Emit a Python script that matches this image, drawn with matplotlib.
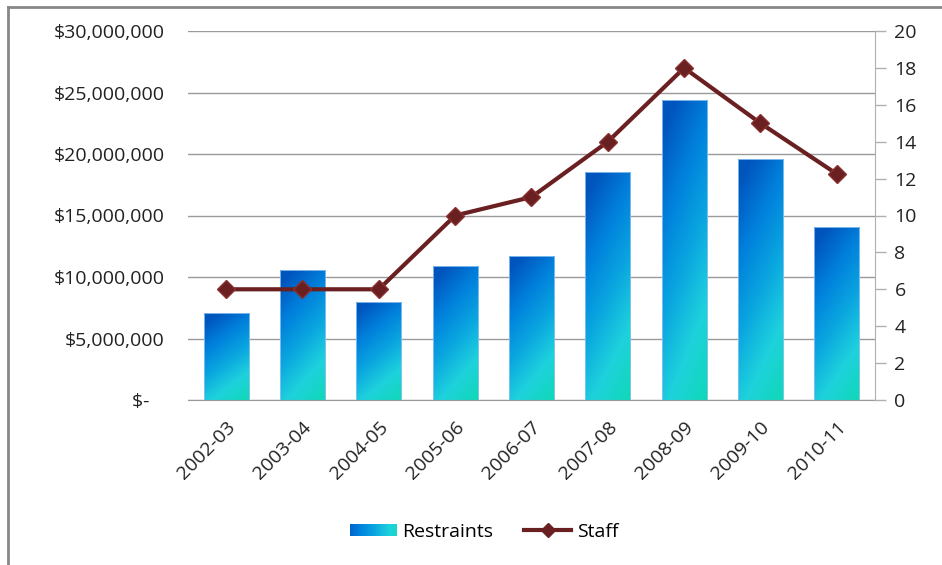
import matplotlib.pyplot as plt
import numpy as np
from matplotlib.colors import LinearSegmentedColormap
from matplotlib.legend_handler import HandlerBase
from matplotlib.lines import Line2D
from matplotlib.patches import Rectangle
from matplotlib.ticker import FuncFormatter

plt.rcParams['font.family'] = ['Open Sans', 'DejaVu Sans']

years = ['2002-03', '2003-04', '2004-05', '2005-06', '2006-07',
         '2007-08', '2008-09', '2009-10', '2010-11']
restraints = [7050000, 10570000, 7990000, 10870000, 11730000,
              18500000, 24400000, 19600000, 14050000]
staff = [6, 6, 6, 10, 11, 14, 18, 15, 12.25]

bar_w = 0.59
line_color = '#6a2020'
grid_color = '#9a9a9a'
text_color = '#222222'

# blue -> cyan shading used inside every bar
cmap = LinearSegmentedColormap.from_list(
    'bluecyan', ['#0055bd', '#0080dc', '#0aa6e0', '#1ed2dc', '#10d8b8'])


def bar_gradient(n=64):
    yy, xx = np.mgrid[0:1:n * 1j, 0:1:n * 1j]
    # mostly vertical, brighter towards the right edge
    t = 0.78 * yy + 0.30 * xx - 0.08
    return np.clip(t, 0, 1)


class GradientPatchHandler(HandlerBase):
    # legend key: horizontal blue -> cyan strip
    def create_artists(self, legend, orig_handle, xdescent, ydescent,
                       width, height, fontsize, trans):
        n = 30
        arts = []
        for i in range(n):
            c = cmap(0.1 + 0.75 * i / (n - 1))
            arts.append(Rectangle((-xdescent + width * i / n, -ydescent),
                                  width / n + 0.3, height, facecolor=c,
                                  edgecolor='none', transform=trans))
        return arts


fig = plt.figure(figsize=(9.42, 5.65), dpi=100)
ax = fig.add_axes([188 / 942, 1 - 400 / 565, (875 - 188) / 942, 369 / 565])
ax2 = ax.twinx()

x = np.arange(len(years))
grad = bar_gradient()
for xi, v in zip(x, restraints):
    left = xi - bar_w / 2
    rect = Rectangle((left, 0), bar_w, v, facecolor='none',
                     edgecolor='#8fc3f0', linewidth=0.6, zorder=3)
    ax.add_patch(rect)
    im = ax.imshow(grad, cmap=cmap, aspect='auto', origin='upper',
                   extent=(left, left + bar_w, 0, v), zorder=2,
                   interpolation='bilinear')
    im.set_clip_path(rect)

ax.set_xlim(-0.5, len(years) - 0.5)
ax.set_ylim(0, 30000000)
ax.set_yticks(np.arange(0, 30000001, 5000000))
ax.yaxis.set_major_formatter(
    FuncFormatter(lambda v, p: '$-   ' if v == 0 else f'${v:,.0f}'))
ax.yaxis.grid(True, color=grid_color, linewidth=1.0)
ax.set_axisbelow(True)
ax.set_xticks(x)
ax.set_xticklabels(years, rotation=45, ha='right', rotation_mode='anchor')
ax.tick_params(axis='x', length=0, pad=13, labelsize=14, colors=text_color)
ax.tick_params(axis='y', length=0, pad=17, labelsize=14, colors=text_color)
for s in ['top', 'left', 'right']:
    ax.spines[s].set_visible(False)
ax.spines['bottom'].set_color(grid_color)

ax2.plot(x, staff, color=line_color, linewidth=3, marker='D',
         markersize=9.5, markerfacecolor=line_color,
         markeredgecolor='#8a3030', zorder=5)
ax2.set_ylim(0, 20)
ax2.set_yticks(np.arange(0, 21, 2))
ax2.tick_params(axis='y', length=8, width=1, pad=6, labelsize=14,
                colors='#b0b0b0', labelcolor=text_color)
for s in ['top', 'left', 'bottom']:
    ax2.spines[s].set_visible(False)
ax2.spines['right'].set_color('#b0b0b0')

# legend
bar_key = Rectangle((0, 0), 1, 1)
line_key = Line2D([], [], color=line_color, linewidth=3, marker='D',
                  markersize=7.5, markerfacecolor=line_color)
fig.legend([bar_key, line_key], ['Restraints', 'Staff'], loc='center',
           bbox_to_anchor=(484 / 942, 1 - 532 / 565), ncol=2, frameon=False,
           fontsize=14, handlelength=2.4, handleheight=0.6,
           handletextpad=0.3, columnspacing=1.6,
           handler_map={Rectangle: GradientPatchHandler()})

# outer frame (left and top edges)
fig.add_artist(Line2D([8 / 942, 8 / 942], [0, 1 - 7 / 565],
                      transform=fig.transFigure, color='#888888', linewidth=2))
fig.add_artist(Line2D([8 / 942, 1], [1 - 7 / 565, 1 - 7 / 565],
                      transform=fig.transFigure, color='#888888', linewidth=2))

fig.savefig('out.png', dpi=100)
